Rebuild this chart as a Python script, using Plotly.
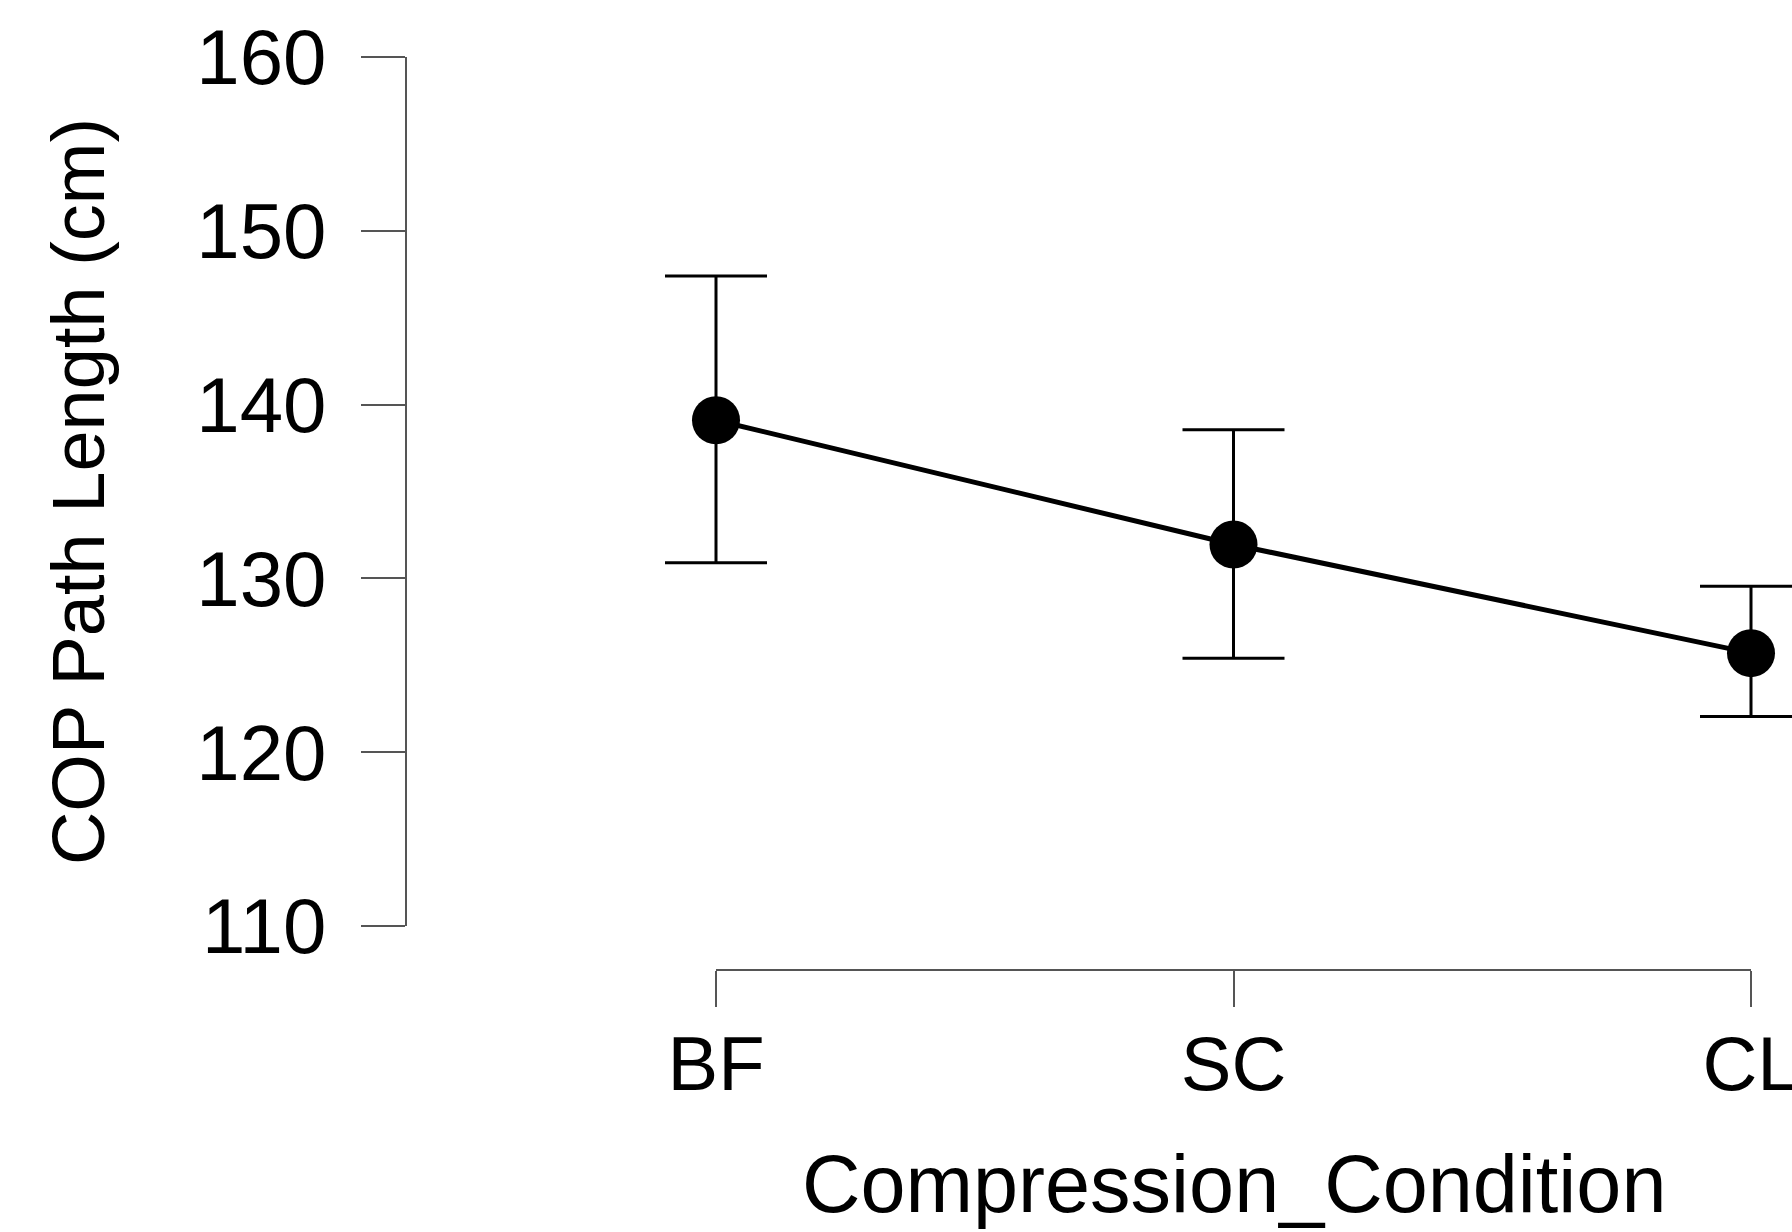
import plotly.graph_objects as go

# ---- data ----
categories = ["BF", "SC", "CL"]
means = [139.1, 131.95, 125.7]
upper = [147.4, 138.55, 129.55]
lower = [130.9, 125.4, 122.05]
y_ticks = [110, 120, 130, 140, 150, 160]
x_title = "Compression_Condition"
y_title = "COP Path Length (cm)"

err_plus = [u - m for u, m in zip(upper, means)]
err_minus = [m - l for m, l in zip(means, lower)]

# ---- layout geometry (pixels) ----
W, H = 1792, 1232
P_FIRST, P_LAST = 716, 1751      # pixel x of first / last category
P_DOM_LEFT = 600                 # plot area starts here so error-bar caps are not clipped
P_XAXIS_Y = 970                  # pixel y of the x axis line
P_Y_TOP, P_Y_BOT = 57, 926       # pixel y of the y range ends
P_YAXIS_X = 406                  # pixel x of y axis line
P_XTITLE_Y = 1184                # pixel y of x title centre

FONT = "Liberation Sans, Arial, Helvetica, sans-serif"
AXC = "#555555"

n = len(categories)
u = (P_LAST - P_FIRST) / (n - 1)
x_range = [-(P_FIRST - P_DOM_LEFT) / u, (n - 1) + (W - P_LAST) / u]

fig = go.Figure(
    go.Scatter(
        x=categories,
        y=means,
        mode="lines+markers",
        line=dict(color="black", width=5),
        marker=dict(color="black", size=48),
        error_y=dict(
            type="data",
            symmetric=False,
            array=err_plus,
            arrayminus=err_minus,
            color="black",
            thickness=3,
            width=51,
        ),
        cliponaxis=False,
        showlegend=False,
        hoverinfo="skip",
    )
)

# x axis line spanning only first..last category (R-style)
fig.add_shape(
    type="line",
    xref="x",
    yref="paper",
    x0=categories[0],
    x1=categories[-1],
    y0=(H - P_XAXIS_Y) / H,
    y1=(H - P_XAXIS_Y) / H,
    line=dict(color=AXC, width=2),
)

# x axis title centred under the category span
fig.add_annotation(
    text=x_title,
    xref="paper",
    yref="paper",
    x=(P_FIRST + P_LAST) / 2 / W,
    y=(H - P_XTITLE_Y) / H,
    xanchor="center",
    yanchor="middle",
    showarrow=False,
    font=dict(size=81, family=FONT, color="black"),
)

fig.update_layout(
    width=W,
    height=H,
    margin=dict(l=0, r=0, t=0, b=0),
    paper_bgcolor="white",
    plot_bgcolor="white",
    font=dict(family=FONT, color="black"),
    xaxis=dict(
        type="category",
        range=x_range,
        domain=[P_DOM_LEFT / W, 1.0],
        anchor="free",
        position=(H - P_XAXIS_Y) / H,
        showline=False,
        ticks="outside",
        ticklen=36,
        tickwidth=2,
        tickcolor=AXC,
        ticklabelstandoff=-8,
        tickfont=dict(size=76, family=FONT, color="black"),
        showgrid=False,
        zeroline=False,
        automargin=False,
    ),
    yaxis=dict(
        range=[110, 160],
        domain=[(H - P_Y_BOT) / H, (H - P_Y_TOP) / H],
        anchor="free",
        position=P_YAXIS_X / W,
        tickmode="array",
        tickvals=y_ticks,
        ticktext=[str(v) for v in y_ticks],
        showline=True,
        linecolor=AXC,
        linewidth=2,
        ticks="outside",
        ticklen=44,
        tickwidth=2,
        tickcolor=AXC,
        ticklabelstandoff=19,
        tickfont=dict(size=78, family=FONT, color="black"),
        showgrid=False,
        zeroline=False,
        automargin=False,
        title=dict(text=y_title, font=dict(size=74, family=FONT, color="black"), standoff=66),
    ),
)

fig.write_html(
    "out.html",
    config={"displayModeBar": False},
    post_script="document.body.style.margin='0';document.body.style.overflow='hidden';",
)
